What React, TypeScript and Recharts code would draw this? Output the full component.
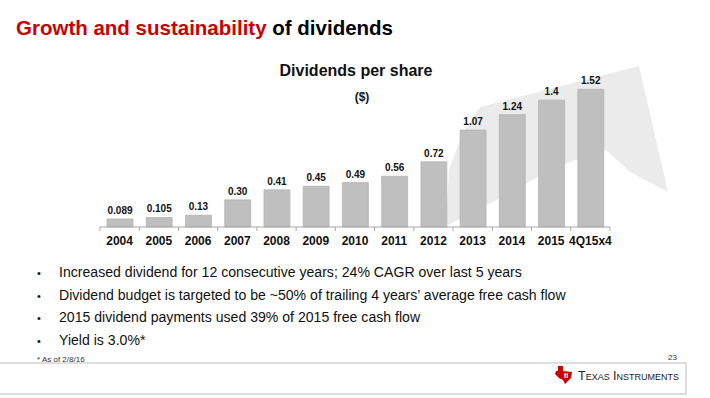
import React from "react";
import { BarChart, Bar, XAxis, YAxis, LabelList } from "recharts";

// Dividends per share, $
const periods = ["2004", "2005", "2006", "2007", "2008", "2009", "2010", "2011", "2012", "2013", "2014", "2015", "4Q15x4"];
const dividends = [0.089, 0.105, 0.13, 0.3, 0.41, 0.45, 0.49, 0.56, 0.72, 1.07, 1.24, 1.4, 1.52];
const dividendLabels = ["0.089", "0.105", "0.13", "0.30", "0.41", "0.45", "0.49", "0.56", "0.72", "1.07", "1.24", "1.4", "1.52"];

const bullets = [
  "Increased dividend for 12 consecutive years; 24% CAGR over last 5 years",
  "Dividend budget is targeted to be ~50% of trailing 4 years\u2019 average free cash flow",
  "2015 dividend payments used 39% of 2015 free cash flow",
  "Yield is 3.0%*",
];

const W = 710;
const H = 398;
const FONT = "'Liberation Sans', Arial, sans-serif";
const X_AXIS_H = 30;
// plot area: x 100..610, y 82..227
const MARGIN = { top: 82, right: 100, bottom: 171 - X_AXIS_H, left: 100 };
const BAND = (W - MARGIN.left - MARGIN.right) / periods.length;
const AXIS_GRAY = "#a6a6a6";

const rows = periods.map((p, i) => ({ period: p, dps: dividends[i], label: dividendLabels[i] }));

// category label plus tick marks sitting on the band boundaries
function PeriodTick(props: any) {
  const { x, y, payload, index } = props;
  const half = BAND / 2;
  const last = index === periods.length - 1;
  return (
    <g>
      <line x1={x - half} x2={x - half} y1={y} y2={y + 4} stroke={AXIS_GRAY} />
      {last && <line x1={x + half} x2={x + half} y1={y} y2={y + 4} stroke={AXIS_GRAY} />}
      <text x={x} y={y + 18} textAnchor="middle" fontSize={12} fontWeight="bold" fill="#111" fontFamily={FONT}>
        {payload.value}
      </text>
    </g>
  );
}

// light swoosh arrow behind the bars
const arrowPts = "446,226 449,170 462,135 480,107 639,66 668,192 630,172 606,150 570,162 532,180 493,202 446,226";

function TiLogo({ x, y }: { x: number; y: number }) {
  return (
    <g transform={`translate(${x} ${y})`}>
      <path
        d="M3 0 L8 0 L8 5 L17 6 L16 12 L12 16 L10 18 L8 14 L4 12 L0 8 L1 5 L3 5 Z"
        fill="#cc0000"
      />
      <text x={9} y={12} fontSize={7} fontWeight="bold" fill="#fff" fontFamily={FONT}>ti</text>
    </g>
  );
}

export default function App() {
  return (
    <div style={{ position: "absolute", left: 0, top: 0, width: W, height: H, background: "#fff", fontFamily: FONT }}>
      <svg width={W} height={H} style={{ position: "absolute", left: 0, top: 0 }}>
        <polygon points={arrowPts} fill="#ebebeb" />

        <text x={16} y={35} fontSize={20.5} fontWeight="bold" fontFamily={FONT}>
          <tspan fill="#cc0000">Growth and sustainability</tspan>
          <tspan fill="#000"> of dividends</tspan>
        </text>

        <text x={356} y={76} textAnchor="middle" fontSize={16} fontWeight="bold" fill="#111" fontFamily={FONT}>
          Dividends per share
        </text>
        <text x={362} y={101} textAnchor="middle" fontSize={12} fontWeight="bold" fill="#111" fontFamily={FONT}>
          ($)
        </text>

        {bullets.map((b, i) => {
          const by = 277 + i * 22.6;
          return (
            <g key={b}>
              <text x={37} y={by} fontSize={11} fill="#111" fontFamily={FONT}>•</text>
              <g transform={`translate(59 ${by}) scale(0.94 1)`}>
                <text x={0} y={0} fontSize={15} fill="#111" fontFamily={FONT}>{b}</text>
              </g>
            </g>
          );
        })}

        <text x={37} y={362} fontSize={8} fill="#333" fontFamily={FONT}>* As of 2/8/16</text>
        <text x={677} y={360} textAnchor="end" fontSize={8} fill="#333" fontFamily={FONT}>23</text>

        <rect x={-2} y={363} width={688} height={31} fill="none" stroke="#d4d4d4" strokeWidth={1.5} />
        <TiLogo x={555} y={366} />
        <text x={578} y={380} fontSize={12.5} fill="#222" fontFamily={FONT} style={{ fontVariant: "small-caps" }}>
          Texas Instruments
        </text>
      </svg>

      <div style={{ position: "absolute", left: 0, top: 0 }}>
        <BarChart width={W} height={H} data={rows} margin={MARGIN}>
          <XAxis
            dataKey="period"
            interval={0}
            height={X_AXIS_H}
            tickLine={false}
            tickSize={0}
            tickMargin={0}
            axisLine={{ stroke: AXIS_GRAY }}
            tick={<PeriodTick />}
          />
          <YAxis hide domain={[0, 1.6]} />
          <Bar dataKey="dps" fill="#bfbfbf" stroke="#a9a9a9" strokeWidth={0.6} barSize={26} isAnimationActive={false}>
            <LabelList
              dataKey="label"
              position="top"
              offset={5}
              fill="#111"
              fontSize={10}
              fontWeight="bold"
              fontFamily={FONT}
            />
          </Bar>
        </BarChart>
      </div>
    </div>
  );
}
